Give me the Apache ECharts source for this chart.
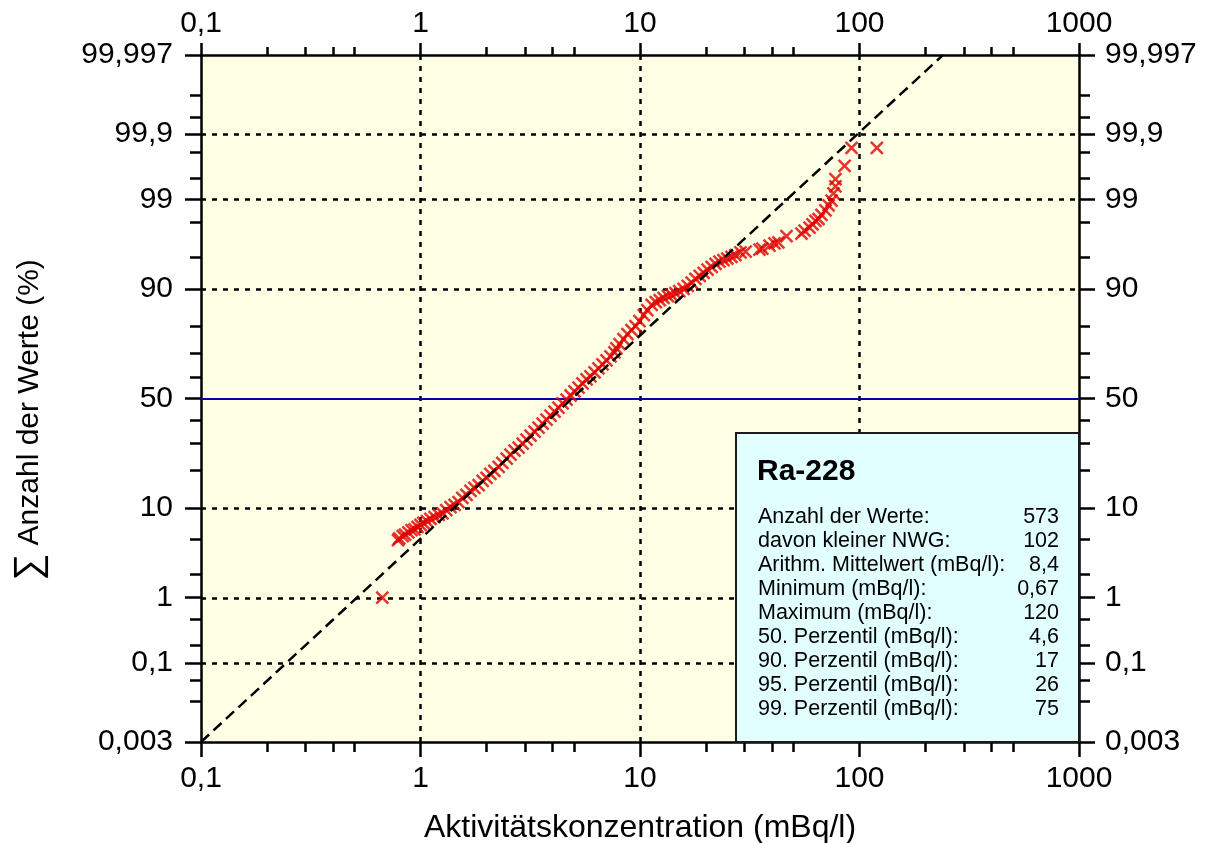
<!DOCTYPE html>
<html>
<head>
<meta charset="utf-8">
<script src="https://cdn.jsdelivr.net/npm/echarts@6/dist/echarts.min.js"></script>
<style>
  html, body { margin: 0; padding: 0; background: #ffffff; }
  #chart { width: 1215px; height: 843px; }
</style>
</head>
<body>
<div id="chart"></div>
<script>
// Ra-228: measured activity concentrations (mBq/l), sorted, with cumulative frequency (%)
const concentration = [
  0.67,
  0.79, 0.80, 0.83, 0.85, 0.88, 0.91, 0.94, 0.97, 1.00, 1.03,
  1.07, 1.11, 1.16, 1.21, 1.26, 1.31, 1.37, 1.43, 1.49, 1.55,
  1.62, 1.69, 1.76, 1.84, 1.92, 2.00, 2.08, 2.17, 2.27, 2.36,
  2.47, 2.57, 2.68, 2.80, 2.92, 3.04, 3.17, 3.31, 3.45, 3.60,
  3.75, 3.91, 4.08, 4.25, 4.44, 4.63, 4.83, 5.03, 5.25, 5.47,
  5.71, 5.95, 6.21, 6.47, 6.75, 7.04, 7.34, 7.65, 7.81, 8.07,
  8.41, 8.77, 9.15, 9.54, 9.95, 10.4, 10.8, 11.3, 11.8, 12.3,
  12.8, 13.4, 13.9, 14.5, 15.1, 15.8, 16.5, 17.2, 17.9, 18.7,
  19.5, 20.3, 21.2, 22.1, 23.0, 24.0, 25.0, 26.1, 27.2, 28.7,
  30.3, 35.0, 36.1, 38.9, 41.0, 42.7, 46.5, 54.4, 56.2, 59.2,
  61.1, 63.0, 65.1, 67.1, 70.0, 72.3, 74.6, 76.1, 77.7, 77.7,
  85.5, 92.0, 120
];
const cumulativePercent = [
  1.0,
  4.9, 5.1, 5.4, 5.6, 5.9, 6.2, 6.3, 6.7, 7.0, 7.3,
  7.6, 8.0, 8.3, 8.7, 9.0, 9.6, 10.2, 10.7, 11.3, 12.3,
  13.0, 14.0, 14.8, 15.6, 16.8, 17.7, 18.9, 19.9, 21.2, 22.6,
  24.1, 25.6, 27.1, 28.3, 29.9, 31.5, 33.2, 34.9, 36.7, 38.5,
  40.3, 42.1, 43.9, 45.8, 47.7, 49.5, 51.4, 53.3, 55.1, 57.0,
  58.8, 60.2, 62.0, 63.8, 65.5, 67.2, 68.9, 70.5, 72.1, 73.7,
  75.6, 77.4, 78.8, 80.1, 81.7, 83.5, 84.9, 86.3, 87.0, 87.5,
  88.0, 88.4, 88.7, 89.1, 89.5, 90.0, 90.6, 91.2, 91.9, 92.4,
  92.9, 93.4, 93.8, 94.2, 94.5, 94.7, 94.9, 95.1, 95.3, 95.6,
  95.7, 95.9, 96.0, 96.3, 96.5, 96.6, 97.1, 97.3, 97.5, 97.7,
  97.9, 98.1, 98.2, 98.4, 98.6, 98.8, 98.96, 99.17, 99.34, 99.48,
  99.67, 99.83, 99.83
];

// fitted log-normal distribution (straight line on the probability grid)
const fitConcentration = [0.1, 240];
const fitPercent = [0.003, 99.997];

// axis ticks
const xTickValues = [0.1, 1, 10, 100, 1000];
const xTickLabels = ['0,1', '1', '10', '100', '1000'];
const xMinorTicks = [0.2, 0.3, 0.4, 0.5, 2, 3, 4, 5, 20, 30, 40, 50, 200, 300, 400, 500];
const yTickValues = [0.003, 0.1, 1, 10, 50, 90, 99, 99.9, 99.997];
const yTickLabels = ['0,003', '0,1', '1', '10', '50', '90', '99', '99,9', '99,997'];
const yMinorTicks = [0.02, 0.05, 0.2, 0.5, 2, 5, 20, 30, 40, 60, 70, 80, 95, 98, 99.5, 99.8, 99.95, 99.98];
const xGridValues = [1, 10, 100];
const yGridValues = [0.1, 1, 10, 90, 99, 99.9];
const medianPercent = 50;

// statistics panel
const nuclide = 'Ra-228';
const statLabels = [
  'Anzahl der Werte:',
  'davon kleiner NWG:',
  'Arithm. Mittelwert (mBq/l):',
  'Minimum (mBq/l):',
  'Maximum (mBq/l):',
  '50. Perzentil (mBq/l):',
  '90. Perzentil (mBq/l):',
  '95. Perzentil (mBq/l):',
  '99. Perzentil (mBq/l):'
];
const statValues = ['573', '102', '8,4', '0,67', '120', '4,6', '17', '26', '75'];

// inverse of the standard normal distribution (Acklam's approximation)
function probit(p) {
  const a = [-3.969683028665376e+01, 2.209460984245205e+02, -2.759285104469687e+02,
             1.383577518672690e+02, -3.066479806614716e+01, 2.506628277459239e+00];
  const b = [-5.447609879822406e+01, 1.615858368580409e+02, -1.556989798598866e+02,
             6.680131188771972e+01, -1.328068155288572e+01];
  const c = [-7.784894002430293e-03, -3.223964580411365e-01, -2.400758277161838e+00,
             -2.549732539343734e+00, 4.374664141464968e+00, 2.938163982698783e+00];
  const d = [7.784695709041462e-03, 3.224671290700398e-01, 2.445134137142996e+00,
             3.754408661907416e+00];
  const pl = 0.02425, ph = 1 - pl;
  let q, r;
  if (p < pl) {
    q = Math.sqrt(-2 * Math.log(p));
    return (((((c[0]*q+c[1])*q+c[2])*q+c[3])*q+c[4])*q+c[5]) / ((((d[0]*q+d[1])*q+d[2])*q+d[3])*q+1);
  }
  if (p <= ph) {
    q = p - 0.5; r = q * q;
    return (((((a[0]*r+a[1])*r+a[2])*r+a[3])*r+a[4])*r+a[5])*q / (((((b[0]*r+b[1])*r+b[2])*r+b[3])*r+b[4])*r+1);
  }
  q = Math.sqrt(-2 * Math.log(1 - p));
  return -(((((c[0]*q+c[1])*q+c[2])*q+c[3])*q+c[4])*q+c[5]) / ((((d[0]*q+d[1])*q+d[2])*q+d[3])*q+1);
}
const zOf = pct => probit(pct / 100);
const lx = v => Math.log10(v);

const FONT = '"Liberation Sans", Arial, Helvetica, sans-serif';
const BLACK = '#000000';
const zMin = zOf(yTickValues[0]);
const zMax = zOf(yTickValues[yTickValues.length - 1]);

const xLabelFmt = v => {
  for (let i = 0; i < xTickValues.length; i++) {
    if (Math.abs(lx(xTickValues[i]) - v) < 1e-6) return xTickLabels[i];
  }
  return '';
};
const yLabelFmt = v => {
  for (let i = 0; i < yTickValues.length; i++) {
    if (Math.abs(zOf(yTickValues[i]) - v) < 1e-6) return yTickLabels[i];
  }
  return '';
};

function xAxisDef(position, minor) {
  return {
    type: 'value', position: position, min: -1, max: 3, interval: 1,
    axisLine: { show: !minor, onZero: false, lineStyle: { color: BLACK, width: 2.5 } },
    axisTick: minor
      ? { show: true, customValues: xMinorTicks.map(lx), length: position === 'top' ? 8 : 10,
          lineStyle: { color: BLACK, width: 2.5 } }
      : { show: true, length: position === 'top' ? 12 : 15, lineStyle: { color: BLACK, width: 2.5 } },
    axisLabel: minor ? { show: false } : {
      show: true, formatter: xLabelFmt, color: BLACK, fontSize: 30, fontFamily: FONT,
      margin: position === 'top' ? 16 : 22
    },
    splitLine: { show: false }
  };
}
function yAxisDef(position, minor) {
  const ticks = minor ? yMinorTicks : yTickValues;
  return {
    type: 'value', position: position, min: zMin, max: zMax,
    axisLine: { show: !minor, onZero: false, lineStyle: { color: BLACK, width: 2.5 } },
    axisTick: { show: true, customValues: ticks.map(zOf), length: minor ? 11 : 16,
                lineStyle: { color: BLACK, width: 2.5 } },
    axisLabel: minor ? { show: false } : {
      show: true, customValues: yTickValues.map(zOf), formatter: yLabelFmt,
      color: BLACK, fontSize: 30, fontFamily: FONT, margin: position === 'left' ? 28 : 26
    },
    splitLine: { show: false }
  };
}

const gridLineStyle = { color: BLACK, type: [5, 6], width: 2.5 };
const gridMarks = [];
xGridValues.forEach(v => gridMarks.push({ xAxis: lx(v), lineStyle: gridLineStyle }));
yGridValues.forEach(v => gridMarks.push({ yAxis: zOf(v), lineStyle: gridLineStyle }));
gridMarks.push({ yAxis: zOf(medianPercent), lineStyle: { color: '#0000A8', type: 'solid', width: 2.2 } });

const points = concentration.map((c, i) => [lx(c), zOf(cumulativePercent[i])]);
const fitLine = fitConcentration.map((c, i) => [lx(c), zOf(fitPercent[i])]);

// statistics panel graphic
const boxLeft = 736, boxTop = 433, boxW = 343, boxH = 309;
const PANEL_Z = 100;
const panelChildren = [
  { type: 'rect', z: PANEL_Z, shape: { x: 0, y: 0, width: boxW, height: boxH },
    style: { fill: '#E2FFFF', stroke: '#1a1a1a', lineWidth: 2 } },
  { type: 'text', z: PANEL_Z + 1, x: 21, y: 39,
    style: { text: nuclide, fontFamily: FONT, fontSize: 30, fontWeight: 'bold', fill: BLACK, verticalAlign: 'middle' } }
];
statLabels.forEach((lab, i) => {
  const y = 84 + i * 24;
  panelChildren.push({ type: 'text', z: PANEL_Z + 1, x: 22, y: y,
    style: { text: lab, fontFamily: FONT, fontSize: 21.5, fill: BLACK, verticalAlign: 'middle' } });
  panelChildren.push({ type: 'text', z: PANEL_Z + 1, x: 323, y: y,
    style: { text: statValues[i], fontFamily: FONT, fontSize: 21.5, fill: BLACK, align: 'right', verticalAlign: 'middle' } });
});

const chart = echarts.init(document.getElementById('chart'), null, { renderer: 'canvas' });
chart.setOption({
  animation: false,
  backgroundColor: '#ffffff',
  grid: { left: 201, top: 55, right: 136, bottom: 101, show: true,
          outerBoundsMode: 'none', containLabel: false,
          backgroundColor: '#FFFFE6', borderWidth: 0 },
  xAxis: [
    Object.assign(xAxisDef('bottom', false), {
      name: 'Aktivitätskonzentration (mBq/l)', nameLocation: 'middle', nameGap: 70,
      nameTextStyle: { color: BLACK, fontSize: 32, fontFamily: FONT }
    }),
    xAxisDef('bottom', true),
    xAxisDef('top', false),
    xAxisDef('top', true)
  ],
  yAxis: [
    yAxisDef('left', false),
    yAxisDef('left', true),
    yAxisDef('right', false),
    yAxisDef('right', true)
  ],
  series: [
    {
      name: 'Raster', type: 'line', data: fitLine, showSymbol: false, silent: true, z: 1,
      lineStyle: { width: 0, opacity: 0 },
      markLine: { silent: true, z: 1, symbol: ['none', 'none'], label: { show: false },
                  animation: false, data: gridMarks }
    },
    {
      name: 'Messwerte', type: 'scatter', data: points, z: 2,
      symbol: 'path://M0,0L10,10M10,0L0,10', symbolSize: 12,
      itemStyle: { color: 'none', borderColor: '#E00000', borderWidth: 2.5 }
    },
    {
      name: 'Verteilung', type: 'line', data: fitLine, showSymbol: false, z: 3,
      lineStyle: { color: BLACK, width: 2.5, type: [11, 6] }
    }
  ],
  graphic: [
    { type: 'group', x: boxLeft, y: boxTop, z: PANEL_Z, children: panelChildren },
    { type: 'text', x: 30, y: 420, rotation: Math.PI / 2, z: PANEL_Z,
      style: {
        text: '{s|∑} Anzahl der Werte (%)', fontFamily: FONT, fontSize: 30, fill: BLACK,
        align: 'center', verticalAlign: 'middle',
        rich: { s: { fontSize: 38, fontFamily: FONT, fill: BLACK } }
      } }
  ]
});
</script>
</body>
</html>
